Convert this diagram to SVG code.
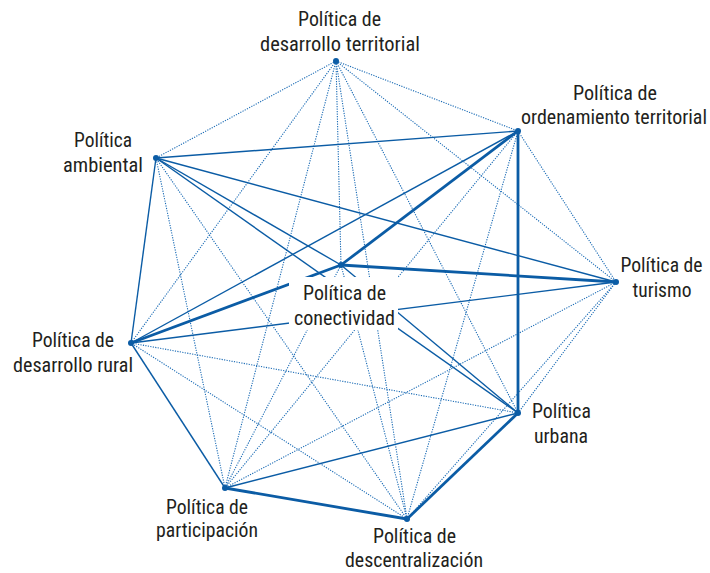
<svg xmlns="http://www.w3.org/2000/svg" width="710" height="573" viewBox="0 0 710 573">
<style>
.bg{fill:#ffffff}
.dot{stroke:#1a6bb5;stroke-width:1.1;stroke-dasharray:1.2 1.3;fill:none}
.thin{stroke:#0b5ca5;stroke-width:1.4;fill:none}
.thick{stroke:#0b5ca5;stroke-width:2.8;fill:none}
.node{fill:#0b5ca5}
.lbl{font-family:"Roboto Condensed","Liberation Sans Narrow","DejaVu Sans Condensed",Roboto,"Liberation Sans",sans-serif;font-stretch:condensed;font-size:20px;fill:#231f20;text-anchor:middle}
</style>
<rect class="bg" x="0" y="0" width="710" height="573"/>
<g id="connectors">
  <line class="dot" x1="336" y1="61" x2="518" y2="131"/>
  <line class="dot" x1="336" y1="61" x2="616" y2="282"/>
  <line class="dot" x1="336" y1="61" x2="518" y2="413"/>
  <line class="dot" x1="336" y1="61" x2="407" y2="519"/>
  <line class="dot" x1="336" y1="61" x2="225" y2="488"/>
  <line class="dot" x1="336" y1="61" x2="131" y2="343"/>
  <line class="dot" x1="336" y1="61" x2="156" y2="158"/>
  <line class="dot" x1="336" y1="61" x2="341" y2="265"/>
  <line class="dot" x1="518" y1="131" x2="616" y2="282"/>
  <line class="dot" x1="518" y1="131" x2="407" y2="519"/>
  <line class="dot" x1="518" y1="131" x2="225" y2="488"/>
  <line class="dot" x1="616" y1="282" x2="518" y2="413"/>
  <line class="dot" x1="616" y1="282" x2="407" y2="519"/>
  <line class="dot" x1="616" y1="282" x2="225" y2="488"/>
  <line class="dot" x1="518" y1="413" x2="131" y2="343"/>
  <line class="dot" x1="407" y1="519" x2="131" y2="343"/>
  <line class="dot" x1="407" y1="519" x2="156" y2="158"/>
  <line class="dot" x1="407" y1="519" x2="341" y2="265"/>
  <line class="dot" x1="225" y1="488" x2="156" y2="158"/>
  <line class="dot" x1="225" y1="488" x2="341" y2="265"/>
  <line class="thin" x1="518" y1="131" x2="131" y2="343"/>
  <line class="thin" x1="518" y1="131" x2="156" y2="158"/>
  <line class="thin" x1="616" y1="282" x2="131" y2="343"/>
  <line class="thin" x1="616" y1="282" x2="156" y2="158"/>
  <line class="thin" x1="518" y1="413" x2="225" y2="488"/>
  <line class="thin" x1="518" y1="413" x2="156" y2="158"/>
  <line class="thin" x1="518" y1="413" x2="341" y2="265"/>
  <line class="thin" x1="225" y1="488" x2="131" y2="343"/>
  <line class="thin" x1="131" y1="343" x2="156" y2="158"/>
  <line class="thin" x1="156" y1="158" x2="341" y2="265"/>
  <line class="thick" x1="518" y1="131" x2="518" y2="413"/>
  <line class="thick" x1="518" y1="131" x2="341" y2="265"/>
  <line class="thick" x1="616" y1="282" x2="341" y2="265"/>
  <line class="thick" x1="518" y1="413" x2="407" y2="519"/>
  <line class="thick" x1="407" y1="519" x2="225" y2="488"/>
  <line class="thick" x1="131" y1="343" x2="341" y2="265"/>
</g>
<g id="n-desarrollo-territorial">
  <circle class="node" cx="336" cy="61" r="3"/>
  <text class="lbl" x="339.5" y="26" textLength="83" lengthAdjust="spacingAndGlyphs">Política de</text>
  <text class="lbl" x="340" y="51" textLength="160" lengthAdjust="spacingAndGlyphs">desarrollo territorial</text>
</g>
<g id="n-ordenamiento-territorial">
  <circle class="node" cx="518" cy="131" r="3"/>
  <text class="lbl" x="615" y="100" textLength="84" lengthAdjust="spacingAndGlyphs">Política de</text>
  <text class="lbl" x="614" y="124" textLength="186" lengthAdjust="spacingAndGlyphs">ordenamiento territorial</text>
</g>
<g id="n-turismo">
  <circle class="node" cx="616" cy="282" r="3"/>
  <text class="lbl" x="661.5" y="272" textLength="82" lengthAdjust="spacingAndGlyphs">Política de</text>
  <text class="lbl" x="662" y="297" textLength="59" lengthAdjust="spacingAndGlyphs">turismo</text>
</g>
<g id="n-urbana">
  <circle class="node" cx="518" cy="413" r="3"/>
  <text class="lbl" x="561.5" y="418" textLength="59" lengthAdjust="spacingAndGlyphs">Política</text>
  <text class="lbl" x="561" y="443" textLength="54" lengthAdjust="spacingAndGlyphs">urbana</text>
</g>
<g id="n-descentralizacion">
  <circle class="node" cx="407" cy="519" r="3"/>
  <text class="lbl" x="414.5" y="543" textLength="83" lengthAdjust="spacingAndGlyphs">Política de</text>
  <text class="lbl" x="414" y="567" textLength="138" lengthAdjust="spacingAndGlyphs">descentralización</text>
</g>
<g id="n-participacion">
  <circle class="node" cx="225" cy="488" r="3"/>
  <text class="lbl" x="207" y="514" textLength="82" lengthAdjust="spacingAndGlyphs">Política de</text>
  <text class="lbl" x="207" y="537" textLength="102" lengthAdjust="spacingAndGlyphs">participación</text>
</g>
<g id="n-desarrollo-rural">
  <circle class="node" cx="131" cy="343" r="3"/>
  <text class="lbl" x="73" y="347" textLength="82" lengthAdjust="spacingAndGlyphs">Política de</text>
  <text class="lbl" x="73" y="372" textLength="120" lengthAdjust="spacingAndGlyphs">desarrollo rural</text>
</g>
<g id="n-ambiental">
  <circle class="node" cx="156" cy="158" r="3"/>
  <text class="lbl" x="103" y="147" textLength="58" lengthAdjust="spacingAndGlyphs">Política</text>
  <text class="lbl" x="103" y="172" textLength="80" lengthAdjust="spacingAndGlyphs">ambiental</text>
</g>
<g id="n-conectividad">
  <circle class="node" cx="341" cy="265" r="3"/>
  <rect class="bg" x="289" y="277" width="109" height="53"/>
  <text class="lbl" x="344.5" y="300" textLength="83" lengthAdjust="spacingAndGlyphs">Política de</text>
  <text class="lbl" x="344.5" y="325" textLength="101" lengthAdjust="spacingAndGlyphs">conectividad</text>
</g>
</svg>
